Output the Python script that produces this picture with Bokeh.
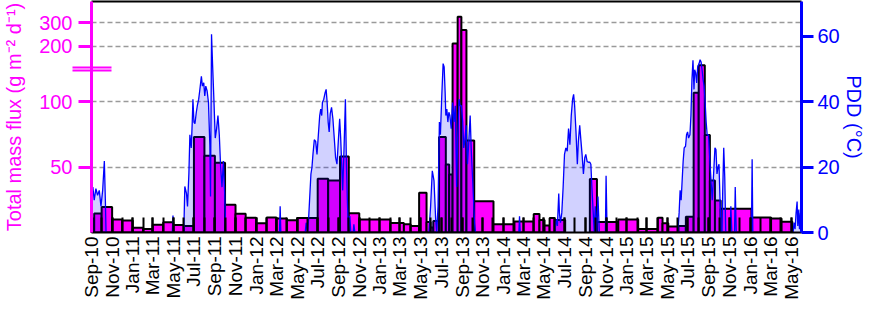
import math
import pandas as pd
from bokeh.plotting import figure
from bokeh.models import (Range1d, LinearAxis, DatetimeAxis, FixedTicker,
                          DatetimeTickFormatter, Grid, ColumnDataSource)
from bokeh.embed import file_html
from bokeh.resources import INLINE

# ---------------- data ----------------
# Sediment-trap sampling intervals and total mass flux (g m-2 d-1)
bar_start = ["2010-09-01", "2010-09-09", "2010-10-01", "2010-11-01", "2010-12-01",
             "2011-01-01", "2011-02-01", "2011-03-01", "2011-04-01", "2011-05-01",
             "2011-06-01", "2011-07-01", "2011-08-01", "2011-09-01", "2011-10-01",
             "2011-11-01", "2011-12-01", "2012-01-01", "2012-02-01", "2012-03-01",
             "2012-04-01", "2012-05-01", "2012-07-01", "2012-08-01", "2012-09-05",
             "2012-10-01", "2012-11-01", "2013-02-01", "2013-03-13", "2013-04-02",
             "2013-04-27", "2013-05-19", "2013-05-31", "2013-06-08", "2013-06-25",
             "2013-07-15", "2013-07-25", "2013-08-04", "2013-08-19", "2013-08-30",
             "2013-09-14", "2013-10-07", "2013-12-03", "2014-02-03", "2014-04-01",
             "2014-04-18", "2014-05-03", "2014-05-18", "2014-06-02", "2014-09-14",
             "2014-10-05", "2014-12-07", "2015-02-04", "2015-04-03", "2015-04-17",
             "2015-05-04", "2015-06-03", "2015-06-25", "2015-07-18", "2015-08-02",
             "2015-08-20", "2015-09-04", "2015-09-19", "2015-10-06", "2016-01-05",
             "2016-03-03", "2016-04-03"]
bar_end = ["2010-09-09", "2010-10-01", "2010-11-01", "2010-12-01", "2011-01-01",
           "2011-02-01", "2011-03-01", "2011-04-01", "2011-05-01", "2011-06-01",
           "2011-07-01", "2011-08-01", "2011-09-01", "2011-10-01", "2011-11-01",
           "2011-12-01", "2012-01-01", "2012-02-01", "2012-03-01", "2012-04-01",
           "2012-05-01", "2012-07-01", "2012-08-01", "2012-09-05", "2012-10-01",
           "2012-11-01", "2013-02-01", "2013-03-13", "2013-04-02", "2013-04-27",
           "2013-05-19", "2013-05-31", "2013-06-08", "2013-06-25", "2013-07-15",
           "2013-07-25", "2013-08-04", "2013-08-19", "2013-08-30", "2013-09-14",
           "2013-10-07", "2013-12-03", "2014-02-03", "2014-04-01", "2014-04-18",
           "2014-05-03", "2014-05-18", "2014-06-02", "2014-07-03", "2014-10-05",
           "2014-12-07", "2015-02-04", "2015-04-03", "2015-04-17", "2015-05-04",
           "2015-06-03", "2015-06-25", "2015-07-18", "2015-08-02", "2015-08-20",
           "2015-09-04", "2015-09-19", "2015-10-06", "2016-01-05", "2016-03-03",
           "2016-04-03", "2016-05-05"]
mass_flux = [10.8, 14.5, 19.5, 10.0, 9.2,
             3.6, 2.6, 6.0, 7.8, 5.8,
             4.9, 73.0, 58.7, 53.3, 21.3,
             14.4, 11.3, 7.1, 11.4, 10.8,
             9.4, 11.0, 41.2, 39.8, 58.2,
             14.8, 10.0, 7.3, 6.3, 5.0,
             30.4, 8.0, 3.9, 8.8, 73.0,
             52.0, 44.4, 212.0, 325.0, 269.0,
             70.4, 24.0, 6.3, 8.5, 14.2,
             9.5, 5.4, 11.0, 9.5, 41.0,
             8.0, 10.0, 2.6, 11.3, 7.1,
             4.6, 5.0, 12.0, 107.0, 128.0,
             74.6, 39.8, 24.4, 18.1, 11.4,
             10.7, 8.2]

# Positive degree days (°C): day of year and value, per year
pdd_2010_doy = [244, 248, 252, 257, 262, 267, 272, 277, 282, 285, 287]
pdd_2010 = [10.4, 13.9, 9.9, 13.4, 11.4, 12.9, 8.0, 12.9, 21.9, 9.9, 0]

pdd_2011_doy = [118, 120, 122,
                152, 155, 160, 163, 167, 170, 174, 177, 179, 182,
                185, 189, 192, 196, 199, 204, 207, 211, 214, 217,
                221, 225, 229, 231, 234, 237, 241, 245, 249, 253,
                257, 261, 265, 269, 273, 276]
pdd_2011 = [0, 5.2, 0,
            0, 14.1, 11.9, 8.0, 17.9, 29.9, 25.9, 33.8, 40.8, 33.8,
            33.3, 36.8, 38.8, 40.8, 43.3, 47.8, 44.8, 45.8, 41.8, 44.8,
            43.3, 39.8, 26.9, 11.0, 60.7, 51.7, 40.8, 28.9, 31.8, 35.8,
            29.9, 19.9, 13.9, 21.9, 11.9, 0]

pdd_2012_doy = [70, 72, 74,
                146, 149, 153, 156, 159, 163, 166, 169, 173, 177,
                181, 185, 189, 192, 195, 197, 201, 205, 208, 211,
                214, 217, 220, 224, 228, 232, 236, 240, 244, 248,
                251, 254, 257, 261, 265, 268, 271, 274,
                278, 281, 288, 290, 293]
pdd_2012 = [0, 8.0, 0,
            0, 3.0, 0, 4.0, 9.9, 17.9, 19.9, 23.9, 28.4, 27.9,
            23.9, 29.9, 35.8, 37.8, 35.8, 39.8, 40.8, 42.8, 43.8, 39.8,
            33.8, 30.8, 36.3, 38.3, 34.8, 28.9, 22.9, 20.9, 27.9, 34.8,
            28.9, 20.9, 12.9, 25.9, 40.8, 20.9, 9.0, 0,
            5.0, 0, 0, 2.5, 0]

pdd_2013_doy = [146, 151, 156, 161, 166, 169, 173, 177, 180, 184,
                188, 191, 194, 196, 199, 202, 205, 208, 212, 216,
                220, 224, 228, 231, 235, 238, 242, 246, 249, 252,
                256, 260, 264, 268, 271, 275, 278, 281, 284]
pdd_2013 = [0, 8.0, 18.9, 15.9, 4.0, 0, 8.0, 33.8, 29.9, 41.8,
            51.7, 50.7, 42.8, 35.8, 37.8, 33.8, 36.8, 35.8, 31.8, 39.8,
            33.8, 38.8, 13.9, 28.9, 40.8, 38.8, 38.8, 33.8, 25.9, 27.9,
            32.8, 20.9, 27.9, 35.8, 25.9, 16.9, 9.9, 3.0, 0]

pdd_2014_doy = [47, 49, 51,
                153, 158, 161, 165, 167, 170, 174, 178, 182, 186,
                190, 194, 198, 202, 206, 209, 212, 216, 220, 223,
                227, 230, 234, 238, 242, 245, 249, 253, 257, 260,
                263, 267, 270, 273, 277, 281, 285,
                303, 305, 308]
pdd_2014 = [0, 5.0, 0,
            0, 4.0, 2.0, 11.9, 6.0, 3.0, 6.0, 13.9, 23.9, 25.9,
            24.9, 31.8, 26.9, 35.8, 40.8, 42.3, 38.8, 30.8, 20.9, 27.9,
            32.8, 28.9, 23.9, 17.9, 22.9, 23.9, 21.7, 21.5, 21.5, 20.9,
            13.9, 6.0, 0, 8.0, 0, 11.0, 0,
            0, 17.4, 0]

pdd_2015_doy = [152, 156, 159, 162, 165, 168, 171, 175, 178, 181,
                184, 188, 191, 194, 197, 200, 202, 205, 208, 211,
                215, 218, 221, 224, 227, 230, 233, 236, 239, 243,
                247, 251, 254, 258, 262, 265, 268, 271, 274, 277,
                280, 283, 285, 288, 291, 294,
                307, 309, 312, 320, 322, 325]
pdd_2015 = [0, 6.0, 12.9, 9.9, 15.9, 21.9, 25.9, 26.4, 29.9, 30.8,
            28.9, 29.9, 35.8, 46.8, 52.7, 43.8, 49.8, 48.8, 45.8, 50.7,
            51.7, 52.9, 52.2, 49.8, 46.8, 44.8, 39.8, 33.8, 29.9, 29.9,
            21.9, 14.9, 9.9, 17.9, 25.9, 25.4, 17.9, 19.9, 20.9, 9.9,
            0, 0, 12.9, 25.9, 16.9, 0,
            0, 8.0, 0, 0, 13.9, 0]

pdd_2016_doy = [5, 7, 9, 128, 131, 134, 137, 140, 142, 145, 147, 150, 152]
pdd_2016 = [0, 22.4, 0, 0, 3.0, 1.0, 6.0, 9.5, 2.0, 7.0, 1.0, 6.0, 0]

flux_tick_values = [50, 100, 200, 300]
pdd_tick_values = [0, 20, 40, 60]
date_start, date_end = "2010-09-01", "2016-06-01"

# ---------------- scales ----------------
MAGENTA, BLUE = "#FF00FF", "#0000FF"
FONT = "Liberation Sans"
Y_TOP = 70.7                 # top of the PDD axis
LOW_SLOPE = 0.4              # flux -> PDD-axis units, below the axis break
UP_REF, UP_REF_Y, UP_SLOPE = 200.0, 57.0, 0.072
KINK = (UP_REF_Y - UP_SLOPE * UP_REF) / (LOW_SLOPE - UP_SLOPE)
BREAK_FLUX = 125.0
BREAK_GAP = 0.5


def flux_y(v):
    return LOW_SLOPE * v if v <= KINK else UP_REF_Y + (v - UP_REF) * UP_SLOPE


def ms(t):
    return pd.Timestamp(t).value / 1e6


x0, x1 = pd.Timestamp(date_start), pd.Timestamp(date_end)

p = figure(width=867, height=302, x_axis_type="datetime",
           x_range=Range1d(x0, x1), y_range=Range1d(0, Y_TOP),
           x_axis_location=None, y_axis_location=None,
           toolbar_location=None, output_backend="svg",
           min_border_left=88, min_border_right=60,
           min_border_top=1, min_border_bottom=60)
p.grid.visible = False
p.outline_line_color = None
p.background_fill_color = "white"
p.border_fill_color = "white"

# grid lines at flux ticks
flux_tick_pos = [flux_y(v) for v in flux_tick_values]
p.add_layout(Grid(dimension=1, ticker=FixedTicker(ticks=flux_tick_pos),
                  grid_line_color="#9A9A9A", grid_line_dash="5 3",
                  grid_line_width=1.3))

# bars
bars = ColumnDataSource(dict(left=pd.to_datetime(bar_start),
                             right=pd.to_datetime(bar_end),
                             top=[flux_y(v) for v in mass_flux]))
p.quad(left="left", right="right", top="top", bottom=0, source=bars,
       fill_color=MAGENTA, line_color="black", line_width=2)

# PDD series
seasons = [(2010, pdd_2010_doy, pdd_2010), (2011, pdd_2011_doy, pdd_2011),
           (2012, pdd_2012_doy, pdd_2012), (2013, pdd_2013_doy, pdd_2013),
           (2014, pdd_2014_doy, pdd_2014), (2015, pdd_2015_doy, pdd_2015),
           (2016, pdd_2016_doy, pdd_2016)]
pdd_t, pdd_v = [], []
for year, doys, vals in seasons:
    base = pd.Timestamp(year=year, month=1, day=1)
    for d, v in zip(doys, vals):
        pdd_t.append(ms(base + pd.Timedelta(days=d - 1)))
        pdd_v.append(v)

p.varea(x=pdd_t, y1=[0] * len(pdd_t), y2=pdd_v, fill_color=BLUE, fill_alpha=0.18)

xs_list, ys_list, cx, cy = [], [], [], []
for t, v in zip(pdd_t, pdd_v):
    if cy and cy[-1] == 0 and v == 0:
        if len(cx) > 1:
            xs_list.append(cx)
            ys_list.append(cy)
        cx, cy = [], []
    cx.append(t)
    cy.append(v)
if len(cx) > 1:
    xs_list.append(cx)
    ys_list.append(cy)
p.multi_line(xs=xs_list, ys=ys_list, line_color=BLUE, line_width=1.3)

# ---------------- axes ----------------
major = pd.date_range(date_start, "2016-05-01", freq="2MS")
minor = pd.date_range(date_start, date_end, freq="MS")
fmt = "%b-%y"
xaxis = DatetimeAxis(
    ticker=FixedTicker(ticks=[ms(t) for t in major], minor_ticks=[ms(t) for t in minor]),
    formatter=DatetimeTickFormatter(microseconds=fmt, milliseconds=fmt, seconds=fmt,
                                    minsec=fmt, minutes=fmt, hourmin=fmt, hours=fmt,
                                    days=fmt, months=fmt, years=fmt))
xaxis.major_label_orientation = math.pi / 2
xaxis.major_label_text_font = FONT
xaxis.major_label_text_font_size = "19px"
xaxis.major_label_text_color = "black"
xaxis.major_label_standoff = 4
xaxis.axis_line_color = "black"
xaxis.axis_line_width = 2
xaxis.major_tick_in = 15
xaxis.major_tick_out = 0
xaxis.major_tick_line_width = 2
xaxis.major_tick_line_color = "black"
xaxis.minor_tick_in = 15
xaxis.minor_tick_out = 0
xaxis.minor_tick_line_width = 2
xaxis.minor_tick_line_color = "black"
p.add_layout(xaxis, "below")

top_axis = LinearAxis(ticker=FixedTicker(ticks=[], minor_ticks=[]),
                      axis_line_color="black", axis_line_width=2,
                      major_tick_in=0, major_tick_out=0, minor_tick_in=0,
                      minor_tick_out=0, major_label_standoff=0)
p.add_layout(top_axis, "above")

# left axis: flux ticks, plus two short marks crossing the axis at the break
yb = flux_y(BREAK_FLUX)
left = LinearAxis(ticker=FixedTicker(ticks=flux_tick_pos,
                                     minor_ticks=[yb - BREAK_GAP, yb + BREAK_GAP]),
                  major_label_overrides={pos: str(v) for pos, v in zip(flux_tick_pos, flux_tick_values)},
                  axis_label="Total mass flux (g m\u207b\u00b2 d\u207b\u00b9)")
right = LinearAxis(ticker=FixedTicker(ticks=pdd_tick_values, minor_ticks=[]),
                   axis_label="PDD (\u00b0C)")
for ax, col, out, stand, lstand in ((left, MAGENTA, 13, 0, 11), (right, BLUE, 12, 4, 0)):
    ax.axis_line_color = col
    ax.axis_line_width = 3
    ax.major_tick_line_color = col
    ax.major_tick_line_width = 3
    ax.major_tick_in = 0
    ax.major_tick_out = out
    ax.major_label_text_color = col
    ax.major_label_text_font = FONT
    ax.major_label_text_font_size = "20px"
    ax.major_label_standoff = stand
    ax.axis_label_text_color = col
    ax.axis_label_text_font = FONT
    ax.axis_label_text_font_size = "20px"
    ax.axis_label_text_font_style = "normal"
    ax.axis_label_standoff = lstand
left.minor_tick_line_color = MAGENTA
left.minor_tick_line_width = 2
left.minor_tick_in = 20
left.minor_tick_out = 19
right.minor_tick_line_color = None
p.add_layout(left, "left")
p.add_layout(right, "right")

open("out.html", "w").write(file_html(p, INLINE))
